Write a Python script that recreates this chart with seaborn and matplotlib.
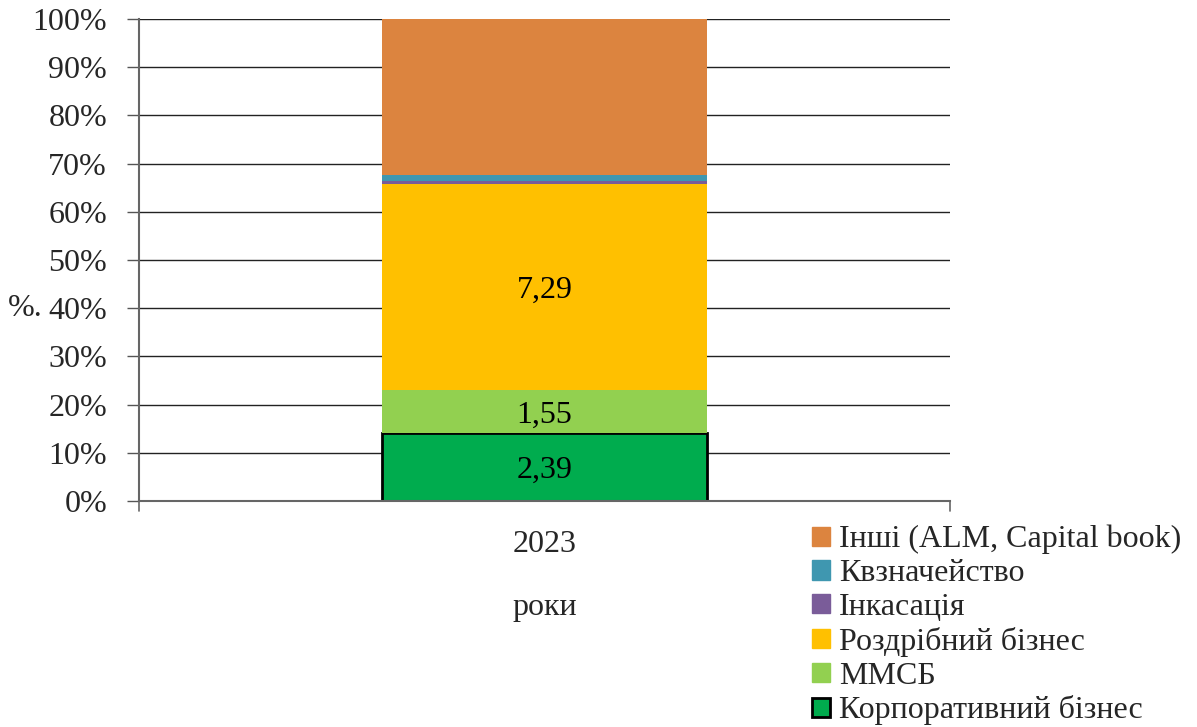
import numpy as np
import pandas as pd
import matplotlib
matplotlib.use("Agg")
import matplotlib.pyplot as plt
import seaborn as sns
from matplotlib.patches import Patch

# Segment data for the single year, bottom to top
years = ["2023"]
segments = ["Корпоративний бізнес", "ММСБ", "Роздрібний бізнес",
            "Інкасація", "Квзначейство", "Інші (ALM, Capital book)"]
values = [2.39, 1.55, 7.29, 0.10, 0.20, 5.53]
labelled = [True, True, True, False, False, False]
colors = ["#00AC4E", "#92D050", "#FFC000", "#7A5C99", "#3F97B0", "#DC843F"]
y_ticks = list(range(0, 101, 10))

sns.set_theme(style="white")
plt.rcParams["font.family"] = ["Liberation Serif", "DejaVu Serif"]
FS = 23

fig = plt.figure(figsize=(11.97, 7.27), dpi=100)
ax = fig.add_axes([139 / 1197, 1 - 501 / 727, 811 / 1197, 482 / 727])

total = sum(values)
shares = [v / total * 100 for v in values]
bottom = 0.0
for name, share, val, col, lab in zip(segments, shares, values, colors, labelled):
    df = pd.DataFrame({"year": years, "share": [share]})
    edge = "black" if name == "Корпоративний бізнес" else col
    lw = 2.0 if name == "Корпоративний бізнес" else 0
    sns.barplot(data=df, x="year", y="share", bottom=bottom, color=col,
                width=0.4, edgecolor=edge, linewidth=lw, saturation=1,
                ax=ax, zorder=3)
    if lab:
        ax.text(0, bottom + share / 2, f"{val:.2f}".replace(".", ","),
                ha="center", va="center_baseline", fontsize=FS,
                color="black", zorder=5)
    bottom += share

ax.set_xlim(-0.5, 0.5)
ax.set_ylim(0, 100)
ax.set_yticks(y_ticks)
ax.set_yticklabels([f"{t}%" for t in y_ticks], fontsize=FS)
ax.set_xticks([0])
ax.set_xticklabels(years, fontsize=FS)
ax.tick_params(axis="x", length=0, pad=21)
ax.tick_params(axis="y", length=9, width=1, color="#555555", direction="out",
               left=True, pad=14)
ax.set_xlabel("роки", fontsize=FS, labelpad=24)
ax.set_ylabel("")

# horizontal gridlines
for t in y_ticks[1:]:
    ax.axhline(t, color="#222222", lw=1.0, zorder=1)
for s in ["top", "right"]:
    ax.spines[s].set_visible(False)
for s in ["left", "bottom"]:
    ax.spines[s].set_color("#666666")
    ax.spines[s].set_linewidth(1.5)
ax.spines["bottom"].set_zorder(4)

# category boundary ticks below the x axis
for xb in (-0.5, 0.5):
    ax.plot([xb, xb], [0, -2], color="#666666", lw=1.2, clip_on=False)

fig.text(8 / 1197, 1 - 308 / 727, "%.", fontsize=FS, va="center", ha="left")

handles = []
for name, col in zip(segments, colors):
    if name == "Корпоративний бізнес":
        handles.append(Patch(facecolor=col, edgecolor="black", linewidth=2, label=name))
    else:
        handles.append(Patch(facecolor=col, edgecolor=col, label=name))
fig.legend(handles=handles[::-1], loc="upper left",
           bbox_to_anchor=(812 / 1197, 1 - 525 / 727), frameon=False,
           fontsize=FS, handlelength=0.55, handleheight=0.55, handletextpad=0.3,
           labelspacing=0.15, borderaxespad=0, borderpad=0)

fig.savefig("out.png", dpi=100)
